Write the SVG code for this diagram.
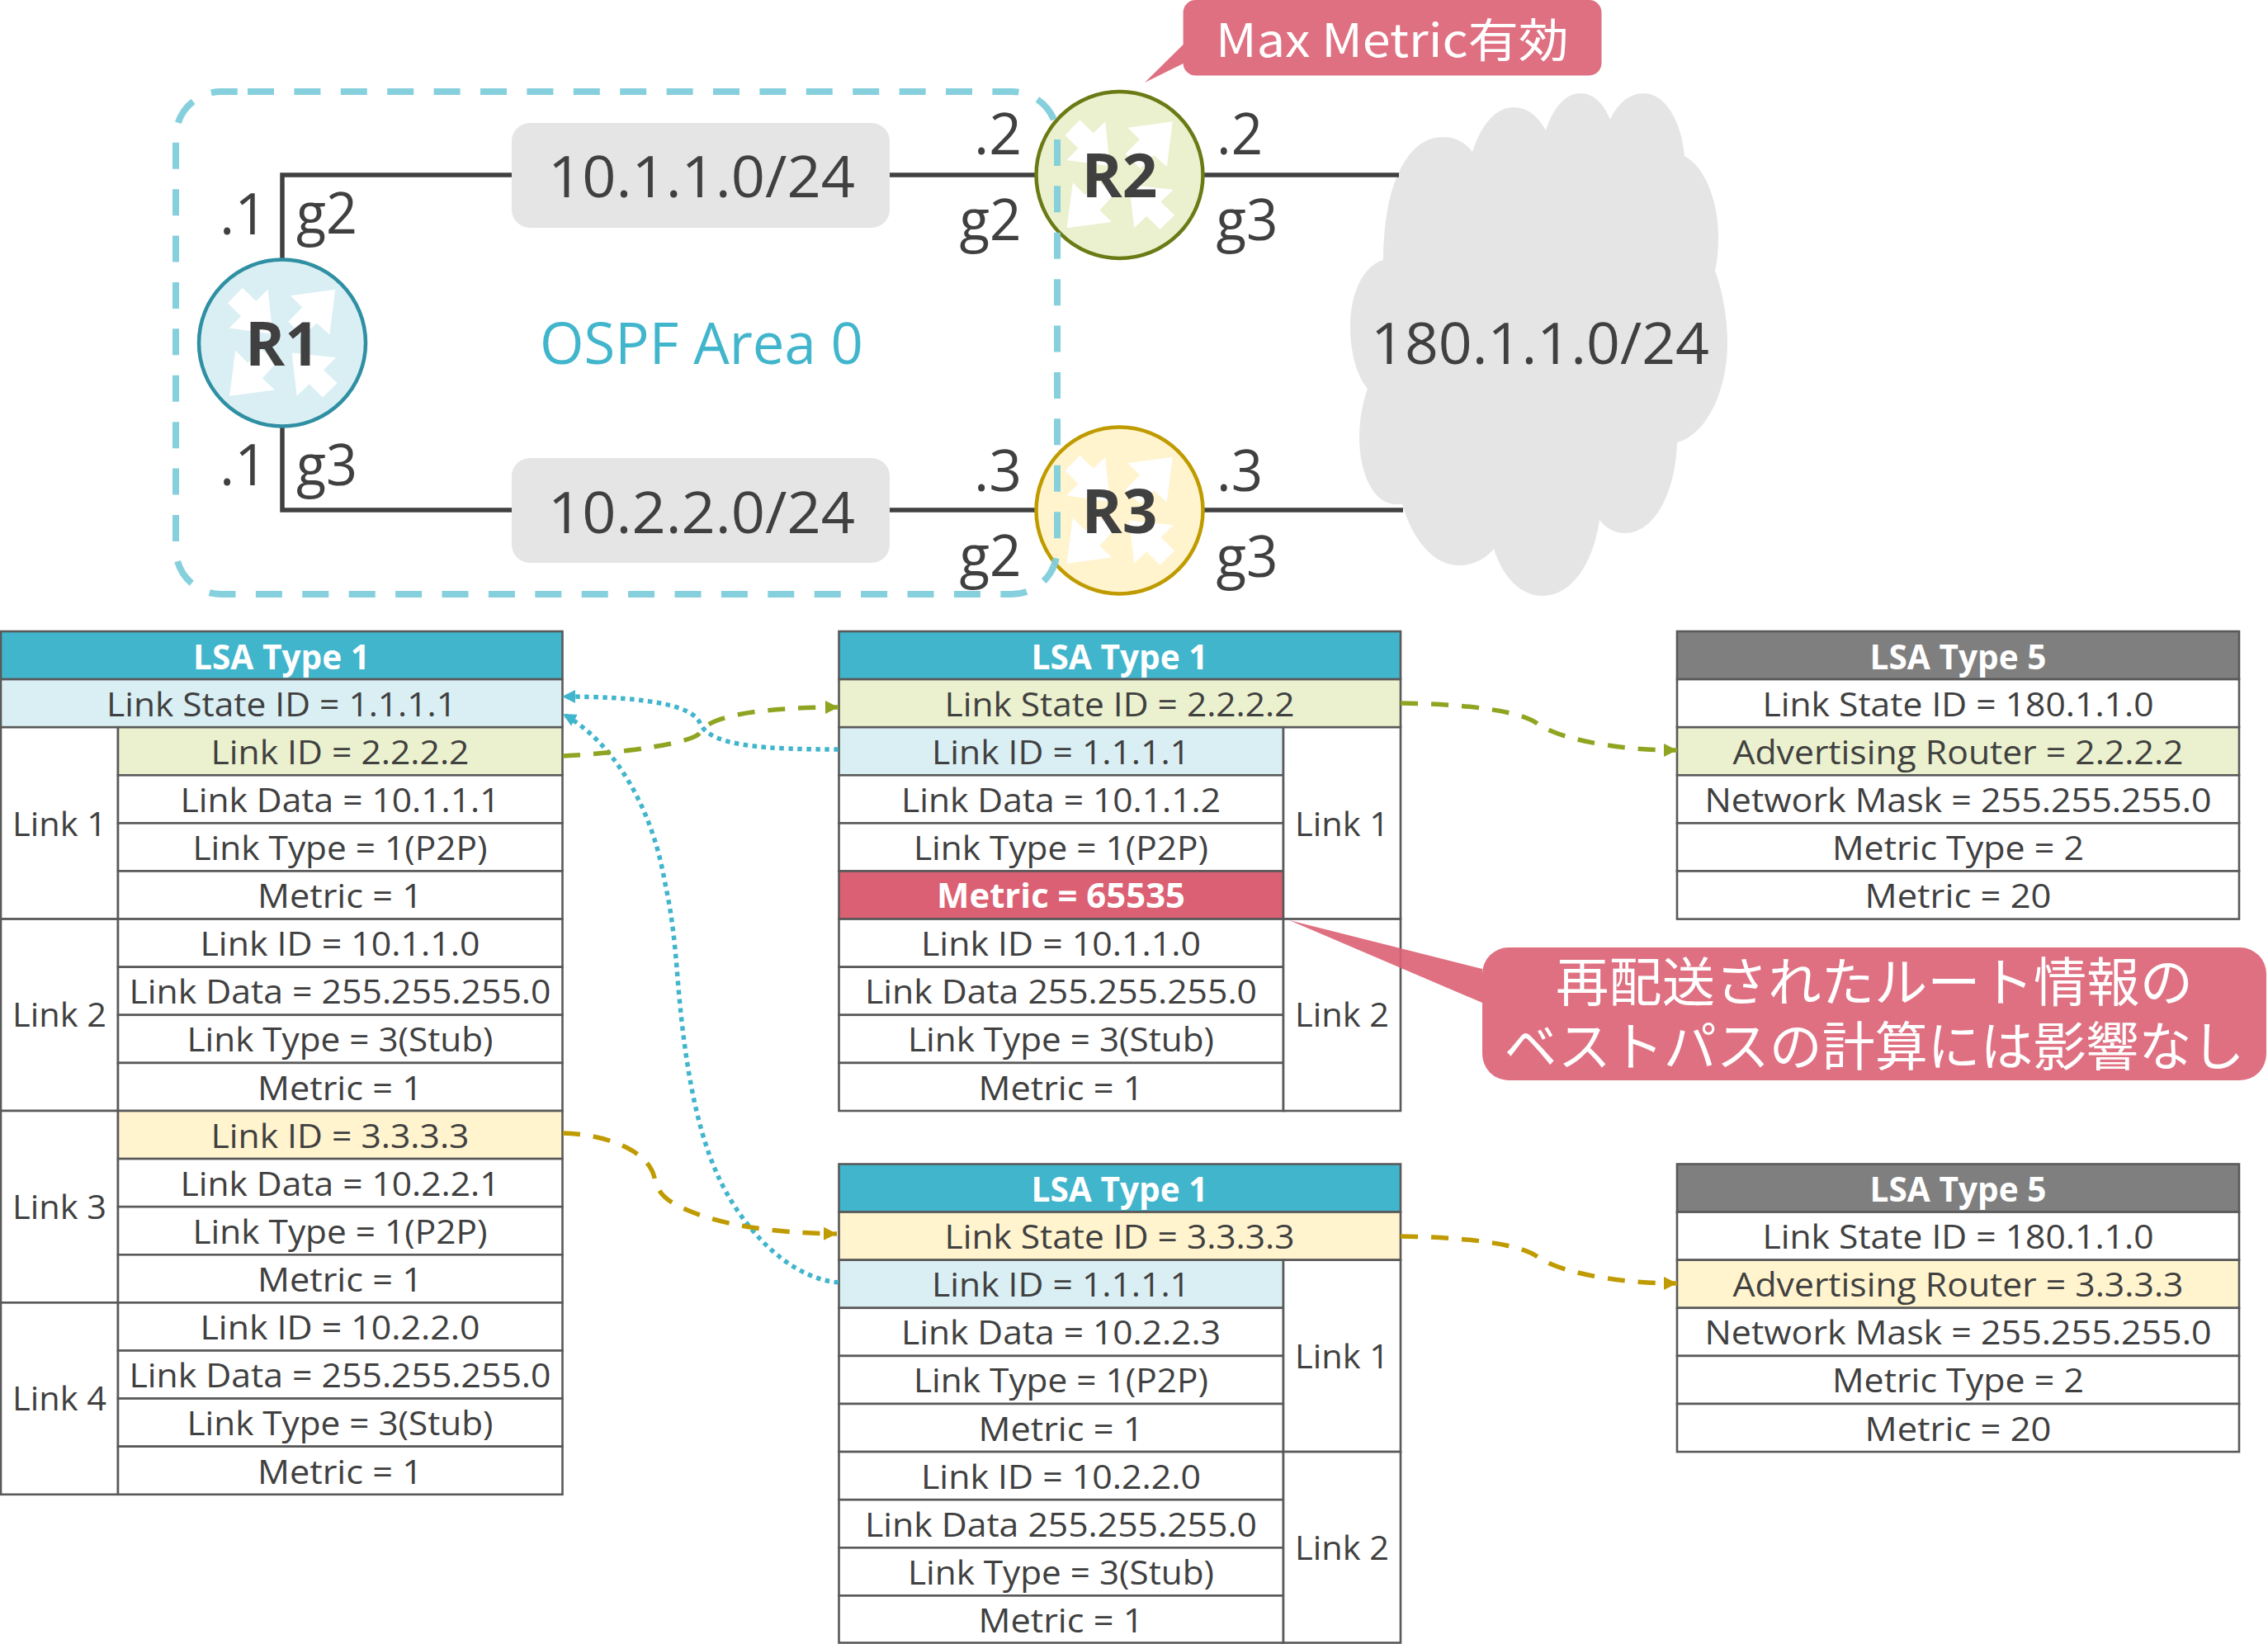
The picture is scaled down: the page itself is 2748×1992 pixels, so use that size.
<svg xmlns="http://www.w3.org/2000/svg" xmlns:xlink="http://www.w3.org/1999/xlink" width="2748" height="1992" viewBox="0 0 2748 1992">
<style>
text{font-family:"Open Sans","Noto Sans","Noto Sans CJK JP",sans-serif;fill:#404040}
.t{font-size:41px;text-anchor:middle}
.h{font-size:41px;text-anchor:middle;font-weight:700;fill:#fff}
.c{fill:#fff;stroke:#595959;stroke-width:2.6}
.hb{fill:#41B5CC;stroke:#595959;stroke-width:2.6}.hg{fill:#7F7F7F;stroke:#595959;stroke-width:2.6}
.bl{fill:#DAEFF4;stroke:#595959;stroke-width:2.6}.gr{fill:#EBF1CE;stroke:#595959;stroke-width:2.6}
.ye{fill:#FFF4CE;stroke:#595959;stroke-width:2.6}.re{fill:#DB6073;stroke:#595959;stroke-width:2.6}
.lbl{font-size:70px;text-anchor:middle}
.rt{font-size:74px;font-weight:700;text-anchor:middle}
.wire{fill:none;stroke:#404040;stroke-width:5.5}
.dot{fill:none;stroke:#41B5CC;stroke-width:5.5;stroke-dasharray:5.5 5.5}
.ol{fill:none;stroke:#8FA420;stroke-width:5.5;stroke-dasharray:21 16}
.go{fill:none;stroke:#BF9B00;stroke-width:5.5;stroke-dasharray:21 16}
.call{fill:#DB6073;fill-opacity:.9}
.callt{fill:#fff;font-family:"Noto Sans CJK JP","Noto Sans",sans-serif;text-anchor:middle}
</style>
<defs>
<g id="arrows" fill="#fff">
<polygon points="-66,-48.3 -48.3,-66.7 -31.7,-50.7 -17.3,-64.7 -11.7,-10.7 -64.3,-18 -50,-32.3"/>
<polygon points="64.3,-64.7 10,-57.3 24.3,-43 7.3,-25.7 25,-8 41.7,-24 57.3,-10"/>
<polygon points="-64,64.3 -56.7,9.3 -41.7,24.3 -25,7.5 -8,25 -24,42.7 -9.3,57"/>
<polygon points="65,17.7 50,32.7 66.7,48.7 49,66 32.7,50 17.7,64.3 11.7,12"/>
</g>
<marker id="mB" markerUnits="userSpaceOnUse" markerWidth="18" markerHeight="16" refX="16" refY="8" orient="auto"><path d="M0,0L16,8L0,16Z" fill="#41B5CC"/></marker>
<marker id="mO" markerUnits="userSpaceOnUse" markerWidth="18" markerHeight="16" refX="16" refY="8" orient="auto"><path d="M0,0L16,8L0,16Z" fill="#8FA420"/></marker>
<marker id="mG" markerUnits="userSpaceOnUse" markerWidth="18" markerHeight="16" refX="16" refY="8" orient="auto"><path d="M0,0L16,8L0,16Z" fill="#BF9B00"/></marker>
</defs>

<g id="cloud"><path fill="#E5E5E5" d="M1676,315C1676,225 1705,166 1748,166C1763,166 1775,172 1784,184C1795,150 1813,130 1834,130C1850,130 1863,140 1873,158C1882,130 1897,113 1915,113C1930,113 1943,125 1951,145C1960,125 1975,113 1991,113C2017,113 2037,145 2041,189C2067,203 2082,245 2082,288C2082,302 2081,315 2078,328C2087,352 2093,385 2093,415C2093,475 2067,527 2032,536C2030,600 2003,646 1969,646C1956,646 1946,640 1938,630C1930,685 1903,722 1869,722C1843,722 1821,700 1810,665C1799,678 1784,685 1768,685C1737,685 1712,655 1699,611C1695,611 1693,611 1691,611C1665,611 1647,575 1647,529C1647,508 1651,488 1657,471C1644,455 1636,428 1636,396C1636,355 1652,322 1676,315Z"/><text class="lbl" x="1866" y="441" textLength="410" lengthAdjust="spacingAndGlyphs">180.1.1.0/24</text></g>

<g id="wires">
<path class="wire" d="M342,313V212H620M1078,212H1256M1456,212H1695M342,518V618H620M1078,618H1256M1456,618H1700"/>
</g>

<g id="net1"><rect x="620" y="149" width="458" height="127" rx="22" fill="#E5E5E5"/><text class="lbl" x="850" y="238.5" textLength="372" lengthAdjust="spacingAndGlyphs">10.1.1.0/24</text></g>
<g id="net2"><rect x="620" y="555" width="458" height="127" rx="22" fill="#E5E5E5"/><text class="lbl" x="850" y="645.5" textLength="372" lengthAdjust="spacingAndGlyphs">10.2.2.0/24</text></g>

<g id="R1"><circle cx="342" cy="415.5" r="101" fill="#DAEFF4" stroke="#2F8FA3" stroke-width="4.5"/><use xlink:href="#arrows" href="#arrows" x="342" y="415.5"/></g>
<g id="R2"><circle cx="1356.5" cy="212" r="101" fill="#EBF1CE" stroke="#6B7A14" stroke-width="4.5"/><use xlink:href="#arrows" href="#arrows" x="1356.5" y="212"/></g>
<g id="R3"><circle cx="1356.5" cy="618.5" r="101" fill="#FFF4CE" stroke="#BF9B00" stroke-width="4.5"/><use xlink:href="#arrows" href="#arrows" x="1356.5" y="618.5"/></g>

<g id="area"><path fill="none" stroke="#7FCDDB" stroke-width="8" stroke-opacity=".95" stroke-dasharray="32 24.4" d="M300,111H1226A55,55 0 0 1 1281,166V665A55,55 0 0 1 1226,720H268A55,55 0 0 1 213,665V166A55,55 0 0 1 268,111H300"/>
<text class="lbl" x="850" y="441" textLength="392" lengthAdjust="spacingAndGlyphs" style="fill:#41B5CC">OSPF Area 0</text></g>

<g id="labels">
<text class="rt" x="342" y="443" textLength="90" lengthAdjust="spacingAndGlyphs">R1</text>
<text class="rt" x="1356.5" y="239" textLength="92" lengthAdjust="spacingAndGlyphs">R2</text>
<text class="rt" x="1356.5" y="645.5" textLength="92" lengthAdjust="spacingAndGlyphs">R3</text>
<text class="lbl" x="295" y="283.5" textLength="58" lengthAdjust="spacingAndGlyphs">.1</text>
<text class="lbl" x="396" y="282.5" textLength="74" lengthAdjust="spacingAndGlyphs">g2</text>
<text class="lbl" x="295" y="588" textLength="58" lengthAdjust="spacingAndGlyphs">.1</text>
<text class="lbl" x="396" y="588" textLength="74" lengthAdjust="spacingAndGlyphs">g3</text>
<text class="lbl" x="1209" y="187" textLength="58" lengthAdjust="spacingAndGlyphs">.2</text>
<text class="lbl" x="1200" y="290.5" textLength="75" lengthAdjust="spacingAndGlyphs">g2</text>
<text class="lbl" x="1209" y="595" textLength="58" lengthAdjust="spacingAndGlyphs">.3</text>
<text class="lbl" x="1200" y="698" textLength="75" lengthAdjust="spacingAndGlyphs">g2</text>
<text class="lbl" x="1502" y="187" textLength="56" lengthAdjust="spacingAndGlyphs">.2</text>
<text class="lbl" x="1511" y="290.5" textLength="75" lengthAdjust="spacingAndGlyphs">g3</text>
<text class="lbl" x="1502" y="595" textLength="56" lengthAdjust="spacingAndGlyphs">.3</text>
<text class="lbl" x="1511" y="698.5" textLength="75" lengthAdjust="spacingAndGlyphs">g3</text>
</g>

<g id="lsa-r1">
<rect class="hb" x="1" y="765" width="680.5" height="58.1"/><text class="h" x="341" y="810.5" textLength="214" lengthAdjust="spacingAndGlyphs">LSA Type 1</text>
<rect class="bl" x="1" y="823.1" width="680.5" height="58.1"/><text class="t" x="341" y="867.5" textLength="424" lengthAdjust="spacingAndGlyphs">Link State ID = 1.1.1.1</text>
<rect class="c" x="1" y="881.2" width="142" height="232.4"/><text class="t" x="72" y="1013" textLength="114" lengthAdjust="spacingAndGlyphs">Link 1</text>
<rect class="c" x="1" y="1113.6" width="142" height="232.4"/><text class="t" x="72" y="1244" textLength="114" lengthAdjust="spacingAndGlyphs">Link 2</text>
<rect class="c" x="1" y="1346" width="142" height="232.4"/><text class="t" x="72" y="1477" textLength="114" lengthAdjust="spacingAndGlyphs">Link 3</text>
<rect class="c" x="1" y="1578.4" width="142" height="232.4"/><text class="t" x="72" y="1708.5" textLength="114" lengthAdjust="spacingAndGlyphs">Link 4</text>
<rect class="gr" x="143" y="881.2" width="538.5" height="58.1"/><text class="t" x="412" y="925.5" textLength="313" lengthAdjust="spacingAndGlyphs">Link ID = 2.2.2.2</text>
<rect class="c" x="143" y="939.3" width="538.5" height="58.1"/><text class="t" x="412" y="983.5" textLength="387" lengthAdjust="spacingAndGlyphs">Link Data = 10.1.1.1</text>
<rect class="c" x="143" y="997.4" width="538.5" height="58.1"/><text class="t" x="412" y="1041.5" textLength="357" lengthAdjust="spacingAndGlyphs">Link Type = 1(P2P)</text>
<rect class="c" x="143" y="1055.5" width="538.5" height="58.1"/><text class="t" x="412" y="1100" textLength="200" lengthAdjust="spacingAndGlyphs">Metric = 1</text>
<rect class="c" x="143" y="1113.6" width="538.5" height="58.1"/><text class="t" x="412" y="1158" textLength="339" lengthAdjust="spacingAndGlyphs">Link ID = 10.1.1.0</text>
<rect class="c" x="143" y="1171.7" width="538.5" height="58.1"/><text class="t" x="412" y="1216" textLength="511" lengthAdjust="spacingAndGlyphs">Link Data = 255.255.255.0</text>
<rect class="c" x="143" y="1229.8" width="538.5" height="58.1"/><text class="t" x="412" y="1274" textLength="371" lengthAdjust="spacingAndGlyphs">Link Type = 3(Stub)</text>
<rect class="c" x="143" y="1287.9" width="538.5" height="58.1"/><text class="t" x="412" y="1332.5" textLength="200" lengthAdjust="spacingAndGlyphs">Metric = 1</text>
<rect class="ye" x="143" y="1346" width="538.5" height="58.1"/><text class="t" x="412" y="1390.5" textLength="313" lengthAdjust="spacingAndGlyphs">Link ID = 3.3.3.3</text>
<rect class="c" x="143" y="1404.1" width="538.5" height="58.1"/><text class="t" x="412" y="1448.5" textLength="387" lengthAdjust="spacingAndGlyphs">Link Data = 10.2.2.1</text>
<rect class="c" x="143" y="1462.2" width="538.5" height="58.1"/><text class="t" x="412" y="1506.5" textLength="357" lengthAdjust="spacingAndGlyphs">Link Type = 1(P2P)</text>
<rect class="c" x="143" y="1520.3" width="538.5" height="58.1"/><text class="t" x="412" y="1565" textLength="200" lengthAdjust="spacingAndGlyphs">Metric = 1</text>
<rect class="c" x="143" y="1578.4" width="538.5" height="58.1"/><text class="t" x="412" y="1623" textLength="339" lengthAdjust="spacingAndGlyphs">Link ID = 10.2.2.0</text>
<rect class="c" x="143" y="1636.5" width="538.5" height="58.1"/><text class="t" x="412" y="1681" textLength="511" lengthAdjust="spacingAndGlyphs">Link Data = 255.255.255.0</text>
<rect class="c" x="143" y="1694.6" width="538.5" height="58.1"/><text class="t" x="412" y="1739" textLength="371" lengthAdjust="spacingAndGlyphs">Link Type = 3(Stub)</text>
<rect class="c" x="143" y="1752.7" width="538.5" height="58.1"/><text class="t" x="412" y="1797.5" textLength="200" lengthAdjust="spacingAndGlyphs">Metric = 1</text>
</g>

<g id="lsa-r2">
<rect class="hb" x="1016.5" y="765" width="680.5" height="58.1"/><text class="h" x="1356.5" y="810.5" textLength="214" lengthAdjust="spacingAndGlyphs">LSA Type 1</text>
<rect class="gr" x="1016.5" y="823.1" width="680.5" height="58.1"/><text class="t" x="1356.5" y="867.5" textLength="424" lengthAdjust="spacingAndGlyphs">Link State ID = 2.2.2.2</text>
<rect class="bl" x="1016.5" y="881.2" width="538.5" height="58.1"/><text class="t" x="1285.5" y="925.5" textLength="313" lengthAdjust="spacingAndGlyphs">Link ID = 1.1.1.1</text>
<rect class="c" x="1016.5" y="939.3" width="538.5" height="58.1"/><text class="t" x="1285.5" y="983.5" textLength="387" lengthAdjust="spacingAndGlyphs">Link Data = 10.1.1.2</text>
<rect class="c" x="1016.5" y="997.4" width="538.5" height="58.1"/><text class="t" x="1285.5" y="1041.5" textLength="357" lengthAdjust="spacingAndGlyphs">Link Type = 1(P2P)</text>
<rect class="re" x="1016.5" y="1055.5" width="538.5" height="58.1"/><text class="h" x="1285.5" y="1100" textLength="301" lengthAdjust="spacingAndGlyphs">Metric = 65535</text>
<rect class="c" x="1016.5" y="1113.6" width="538.5" height="58.1"/><text class="t" x="1285.5" y="1158" textLength="339" lengthAdjust="spacingAndGlyphs">Link ID = 10.1.1.0</text>
<rect class="c" x="1016.5" y="1171.7" width="538.5" height="58.1"/><text class="t" x="1285.5" y="1216" textLength="475" lengthAdjust="spacingAndGlyphs">Link Data 255.255.255.0</text>
<rect class="c" x="1016.5" y="1229.8" width="538.5" height="58.1"/><text class="t" x="1285.5" y="1274" textLength="371" lengthAdjust="spacingAndGlyphs">Link Type = 3(Stub)</text>
<rect class="c" x="1016.5" y="1287.9" width="538.5" height="58.1"/><text class="t" x="1285.5" y="1332.5" textLength="200" lengthAdjust="spacingAndGlyphs">Metric = 1</text>
<rect class="c" x="1555" y="881.2" width="142" height="232.4"/><text class="t" x="1626" y="1013" textLength="114" lengthAdjust="spacingAndGlyphs">Link 1</text>
<rect class="c" x="1555" y="1113.6" width="142" height="232.4"/><text class="t" x="1626" y="1244" textLength="114" lengthAdjust="spacingAndGlyphs">Link 2</text>
</g>

<g id="lsa-r3">
<rect class="hb" x="1016.5" y="1410.5" width="680.5" height="58.1"/><text class="h" x="1356.5" y="1456" textLength="214" lengthAdjust="spacingAndGlyphs">LSA Type 1</text>
<rect class="ye" x="1016.5" y="1468.6" width="680.5" height="58.1"/><text class="t" x="1356.5" y="1513" textLength="424" lengthAdjust="spacingAndGlyphs">Link State ID = 3.3.3.3</text>
<rect class="bl" x="1016.5" y="1526.7" width="538.5" height="58.1"/><text class="t" x="1285.5" y="1571" textLength="313" lengthAdjust="spacingAndGlyphs">Link ID = 1.1.1.1</text>
<rect class="c" x="1016.5" y="1584.8" width="538.5" height="58.1"/><text class="t" x="1285.5" y="1629" textLength="387" lengthAdjust="spacingAndGlyphs">Link Data = 10.2.2.3</text>
<rect class="c" x="1016.5" y="1642.9" width="538.5" height="58.1"/><text class="t" x="1285.5" y="1687" textLength="357" lengthAdjust="spacingAndGlyphs">Link Type = 1(P2P)</text>
<rect class="c" x="1016.5" y="1701" width="538.5" height="58.1"/><text class="t" x="1285.5" y="1745.5" textLength="200" lengthAdjust="spacingAndGlyphs">Metric = 1</text>
<rect class="c" x="1016.5" y="1759.1" width="538.5" height="58.1"/><text class="t" x="1285.5" y="1803.5" textLength="339" lengthAdjust="spacingAndGlyphs">Link ID = 10.2.2.0</text>
<rect class="c" x="1016.5" y="1817.2" width="538.5" height="58.1"/><text class="t" x="1285.5" y="1861.5" textLength="475" lengthAdjust="spacingAndGlyphs">Link Data 255.255.255.0</text>
<rect class="c" x="1016.5" y="1875.3" width="538.5" height="58.1"/><text class="t" x="1285.5" y="1919.5" textLength="371" lengthAdjust="spacingAndGlyphs">Link Type = 3(Stub)</text>
<rect class="c" x="1016.5" y="1933.4" width="538.5" height="57.1"/><text class="t" x="1285.5" y="1978" textLength="200" lengthAdjust="spacingAndGlyphs">Metric = 1</text>
<rect class="c" x="1555" y="1526.7" width="142" height="232.4"/><text class="t" x="1626" y="1657.5" textLength="114" lengthAdjust="spacingAndGlyphs">Link 1</text>
<rect class="c" x="1555" y="1759.1" width="142" height="231.4"/><text class="t" x="1626" y="1890" textLength="114" lengthAdjust="spacingAndGlyphs">Link 2</text>
</g>

<g id="lsa5-r2">
<rect class="hg" x="2032" y="765" width="681" height="58.1"/><text class="h" x="2372.5" y="810.5" textLength="214" lengthAdjust="spacingAndGlyphs">LSA Type 5</text>
<rect class="c" x="2032" y="823.1" width="681" height="58.1"/><text class="t" x="2372.5" y="867.5" textLength="474" lengthAdjust="spacingAndGlyphs">Link State ID = 180.1.1.0</text>
<rect class="gr" x="2032" y="881.2" width="681" height="58.1"/><text class="t" x="2372.5" y="925.5" textLength="546" lengthAdjust="spacingAndGlyphs">Advertising Router = 2.2.2.2</text>
<rect class="c" x="2032" y="939.3" width="681" height="58.1"/><text class="t" x="2372.5" y="983.5" textLength="614" lengthAdjust="spacingAndGlyphs">Network Mask = 255.255.255.0</text>
<rect class="c" x="2032" y="997.4" width="681" height="58.1"/><text class="t" x="2372.5" y="1041.5" textLength="305" lengthAdjust="spacingAndGlyphs">Metric Type = 2</text>
<rect class="c" x="2032" y="1055.5" width="681" height="58.1"/><text class="t" x="2372.5" y="1100" textLength="226" lengthAdjust="spacingAndGlyphs">Metric = 20</text>
</g>

<g id="lsa5-r3">
<rect class="hg" x="2032" y="1410.5" width="681" height="58.1"/><text class="h" x="2372.5" y="1456" textLength="214" lengthAdjust="spacingAndGlyphs">LSA Type 5</text>
<rect class="c" x="2032" y="1468.6" width="681" height="58.1"/><text class="t" x="2372.5" y="1513" textLength="474" lengthAdjust="spacingAndGlyphs">Link State ID = 180.1.1.0</text>
<rect class="ye" x="2032" y="1526.7" width="681" height="58.1"/><text class="t" x="2372.5" y="1571" textLength="546" lengthAdjust="spacingAndGlyphs">Advertising Router = 3.3.3.3</text>
<rect class="c" x="2032" y="1584.8" width="681" height="58.1"/><text class="t" x="2372.5" y="1629" textLength="614" lengthAdjust="spacingAndGlyphs">Network Mask = 255.255.255.0</text>
<rect class="c" x="2032" y="1642.9" width="681" height="58.1"/><text class="t" x="2372.5" y="1687" textLength="305" lengthAdjust="spacingAndGlyphs">Metric Type = 2</text>
<rect class="c" x="2032" y="1701" width="681" height="58.1"/><text class="t" x="2372.5" y="1745.5" textLength="226" lengthAdjust="spacingAndGlyphs">Metric = 20</text>
</g>

<g id="connectors">
<path class="dot" marker-end="url(#mB)" d="M1016,908C930,908 860,905 848,876C838,852 770,844 681,844"/>
<path class="dot" marker-end="url(#mB)" d="M1016,1554C950,1548 895,1480 870,1425C840,1360 828,1270 821,1185C816,1120 812,1100 805,1066C790,980 745,900 682,865"/>
<path class="ol" marker-end="url(#mO)" d="M682,916C760,912 840,900 848,888C858,866 930,857 1016,857"/>
<path class="ol" marker-end="url(#mO)" d="M1697,852C1770,853 1840,860 1863,877C1885,893 1950,909 2032,909"/>
<path class="go" marker-end="url(#mG)" d="M682,1373C730,1374 785,1392 793,1427C797,1450 815,1458 830,1465C870,1483 930,1494 1014,1495"/>
<path class="go" marker-end="url(#mG)" d="M1697,1498C1770,1499 1840,1506 1863,1523C1885,1539 1950,1555 2032,1555"/>
</g>

<g id="callout-max">
<path class="call" d="M1448.6,0H1925.5A15,15 0 0 1 1940.5,15V76.5A15,15 0 0 1 1925.5,91.5H1448.6A15,15 0 0 1 1433.6,77L1387,100L1433.6,54V15A15,15 0 0 1 1448.6,0Z"/>
<text class="callt" x="1687" y="68.5" font-size="56" textLength="428" lengthAdjust="spacingAndGlyphs">Max Metric有効</text>
</g>
<g id="callout-note">
<path class="call" d="M1828,1148H2714A32,32 0 0 1 2746,1180V1277A32,32 0 0 1 2714,1309H1828A32,32 0 0 1 1796,1277V1215L1562,1115L1796,1174V1180A32,32 0 0 1 1828,1148Z"/>
<text class="callt" x="2271" y="1213" font-size="64" textLength="772" lengthAdjust="spacingAndGlyphs">再配送されたルート情報の</text>
<text class="callt" x="2271" y="1291" font-size="64" textLength="897" lengthAdjust="spacingAndGlyphs">ベストパスの計算には影響なし</text>
</g>
</svg>
